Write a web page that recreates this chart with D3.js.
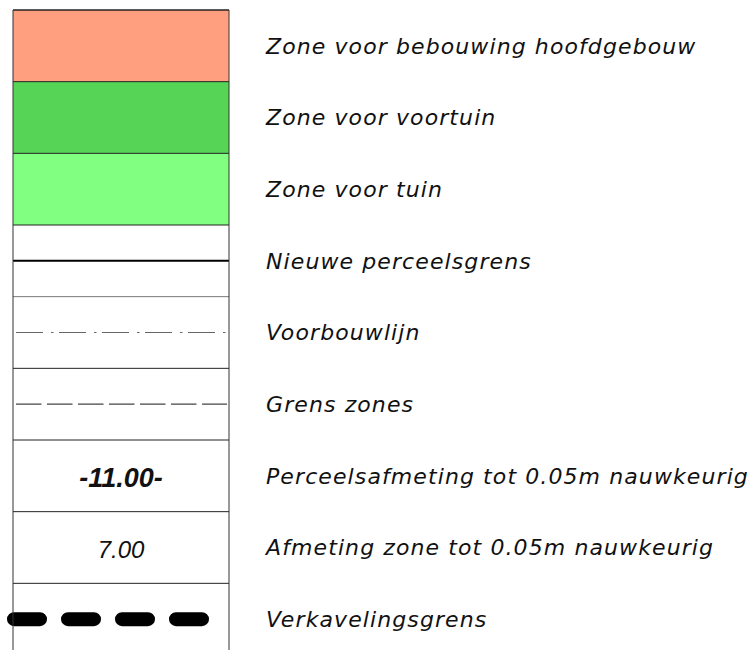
<!DOCTYPE html>
<head>
  <meta charset="utf-8">
  <style>
    body { margin: 0; background: #fff; }
    .label { font-family: "DejaVu Sans", sans-serif; font-style: italic; font-size: 22px; letter-spacing: 1.1px; fill: #111; }
    .cell { font-family: "Liberation Sans", Arial, sans-serif; font-style: italic; fill: #111; }
  </style>
</head>
<body>
<script src="https://cdnjs.cloudflare.com/ajax/libs/d3/7.8.5/d3.min.js"></script>
<script>

// legend rows, top to bottom
var labels = [
  "Zone voor bebouwing hoofdgebouw",
  "Zone voor voortuin",
  "Zone voor tuin",
  "Nieuwe perceelsgrens",
  "Voorbouwlijn",
  "Grens zones",
  "Perceelsafmeting tot 0.05m nauwkeurig",
  "Afmeting zone tot 0.05m nauwkeurig",
  "Verkavelingsgrens"
];
var symbols = ["fill", "fill", "fill", "line", "dashdot", "dash", "text", "text", "thick"];
var fills = ["#ff9f80", "#55d455", "#80ff80", null, null, null, null, null, null];
var cellTexts = [null, null, null, null, null, null, "-11.00-", "7.00", null];

var width = 749, height = 650;

var svg = d3.select("body").append("svg")
    .attr("width", width)
    .attr("height", height);

var y = d3.scaleBand()
    .domain(d3.range(labels.length))
    .range([10, 655]);

var x0 = 13, x1 = 229;

var rows = svg.selectAll(".row")
    .data(labels)
  .enter().append("g")
    .attr("class", "row")
    .attr("transform", function(d, i) { return "translate(0," + y(i) + ")"; });

// cell backgrounds
rows.append("rect")
    .attr("x", x0)
    .attr("width", x1 - x0)
    .attr("height", y.bandwidth())
    .attr("fill", function(d, i) { return fills[i] || "#fff"; })
    .attr("stroke", "none");

// row borders
rows.append("line")
    .attr("x1", x0).attr("x2", x1)
    .attr("y1", 0).attr("y2", 0)
    .attr("stroke", function(d, i) { return i == 4 ? "#777" : "#222"; })
    .attr("stroke-width", 1);

var mid = y.bandwidth() / 2;

rows.filter(function(d, i) { return symbols[i] == "line"; })
  .append("line")
    .attr("x1", x0).attr("x2", x1)
    .attr("y1", mid).attr("y2", mid)
    .attr("stroke", "#000")
    .attr("stroke-width", 2);

rows.filter(function(d, i) { return symbols[i] == "dashdot"; })
  .append("line")
    .attr("x1", x0 + 3).attr("x2", x1 - 2)
    .attr("y1", mid).attr("y2", mid)
    .attr("stroke", "#666")
    .attr("stroke-width", 1.2)
    .attr("stroke-dasharray", "27,8,2.5,5.5");

rows.filter(function(d, i) { return symbols[i] == "dash"; })
  .append("line")
    .attr("x1", x0 + 3).attr("x2", x1 - 2)
    .attr("y1", mid).attr("y2", mid)
    .attr("stroke", "#444")
    .attr("stroke-width", 1.2)
    .attr("stroke-dasharray", "25.5,5.5");

rows.filter(function(d, i) { return symbols[i] == "thick"; })
  .append("line")
    .attr("x1", 14).attr("x2", 202)
    .attr("y1", mid).attr("y2", mid)
    .attr("stroke", "#000")
    .attr("stroke-width", 14)
    .attr("stroke-linecap", "round")
    .attr("stroke-dasharray", "26,28");

rows.filter(function(d, i) { return symbols[i] == "text"; })
  .append("text")
    .attr("class", "cell")
    .attr("x", (x0 + x1) / 2)
    .attr("y", mid + 11)
    .attr("text-anchor", "middle")
    .style("font-weight", function(d, i) { return i == 0 ? "bold" : "normal"; })
    .style("font-size", function(d, i) { return i == 0 ? "27px" : "24px"; })
    .text(function(d) { return cellTexts[labels.indexOf(d)]; });

// labels
rows.append("text")
    .attr("class", "label")
    .attr("x", 266)
    .attr("y", mid + 8)
    .text(function(d) { return d; });

// frame: top line and side lines
svg.append("line")
    .attr("x1", x0).attr("x2", x1).attr("y1", 10).attr("y2", 10)
    .attr("stroke", "#222");
svg.append("line")
    .attr("x1", x0).attr("x2", x0).attr("y1", 10).attr("y2", height)
    .attr("stroke", "#333");
svg.append("line")
    .attr("x1", x1).attr("x2", x1).attr("y1", 10).attr("y2", height)
    .attr("stroke", "#333");

</script>
</body>
